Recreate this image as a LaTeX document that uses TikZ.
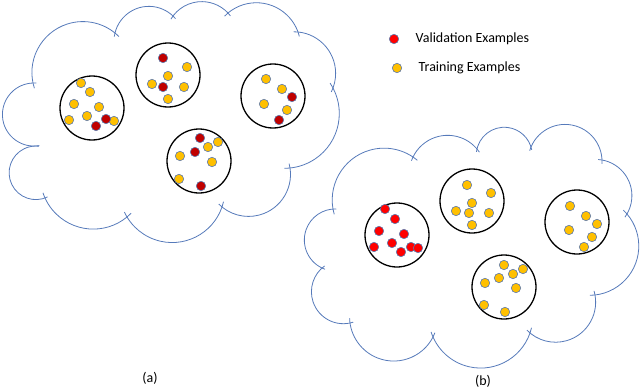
\documentclass[tikz,border=0pt]{standalone}
\usepackage{fontspec}
\setmainfont{Carlito}
\usetikzlibrary{calc,positioning}

\definecolor{cloudblue}{RGB}{86,122,186}
\definecolor{dotedge}{RGB}{92,120,172}
\definecolor{trainyel}{RGB}{255,192,0}
\definecolor{valdark}{RGB}{192,0,0}
\definecolor{valred}{RGB}{255,0,0}

% one puff of a cloud: arc from (x1,y1) to (x2,y2) of the given span, ends run on a bit
\newcommand\puff[5]{%
  \pgfmathsetmacro\pfdir{atan2(#2-#4,#3-#1)}%
  \pgfmathsetmacro\pfrad{veclen(#3-#1,#4-#2)/2/sin(#5/2)}%
  \pgfmathsetmacro\pfsa{\pfdir+90+#5/2+6}%
  \pgfmathsetmacro\pfea{\pfdir+90-#5/2-6}%
  \draw[cloudline] ($(#1,#2)+(\pfsa+174:\pfrad pt)+(\pfsa:\pfrad pt)$)
    arc[start angle=\pfsa, end angle=\pfea, radius=\pfrad pt];}

\begin{document}
\begin{tikzpicture}[
        x=1pt, y=-1pt,
        font=\fontsize{14}{16}\selectfont,
        cloudline/.style={draw=cloudblue, line width=0.8pt},
        cluster/.style={circle, draw=black, line width=1.3pt, minimum size=64pt, inner sep=0pt},
        tdot/.style={fill=trainyel, draw=dotedge, line width=0.6pt},
        vdot/.style={fill=valdark, draw=dotedge, line width=0.6pt},
        bdot/.style={fill=valred, draw=dotedge, line width=0.6pt},
        legdot/.style={circle, draw=dotedge, line width=0.6pt, minimum size=9.4pt, inner sep=0pt},
    ]
        \useasboundingbox (0,0) rectangle (640,388);

        % --- Cloud (a) ---
        \foreach \xa/\ya/\xb/\yb/\sp in {33/83/115/33/141, 115/33/173/16/120, 173/16/228/13/100,
            228/13/298/32/110, 298/32/333/88/105, 333/88/290/168/112, 290/168/222/207/138,
            222/207/127/217/130, 127/217/45/198/105, 45/198/36/146/200, 36/146/33/83/182}
            {\puff{\xa}{\ya}{\xb}{\yb}{\sp}}

        % --- Cloud (b) ---
        \foreach \xa/\ya/\xb/\yb/\sp in {333/209/413/157/134, 413/157/477/149/114, 477/149/531/147/150,
            531/147/602/160/155, 602/160/627/214/110, 627/214/595/295/124, 595/295/530/333/140,
            530/333/433/337/137, 433/337/350/323/145, 350/323/322/268/150, 322/268/333/209/150}
            {\puff{\xa}{\ya}{\xb}{\yb}{\sp}}

        % --- Clusters ---
        \node[cluster] (ca1) at (92,108) {};
        \node[cluster] (ca2) at (168,75) {};
        \node[cluster] (ca3) at (273,96) {};
        \node[cluster] (ca4) at (199,161) {};
        \node[cluster] (cb1) at (397,235) {};
        \node[cluster] (cb2) at (472,201) {};
        \node[cluster] (cb3) at (577,222) {};
        \node[cluster] (cb4) at (504,287) {};

        % --- Examples in (a) ---
        \foreach \x/\y in {81/83, 90/92, 74/104, 99/107, 69/120, 87/116, 114/121,
            187/67, 168/76, 152/84, 184/87, 168/99,
            266/79, 282/89, 264/104, 287/110,
            218/142, 208/147, 180/156, 212/162, 179/179}
            \path[tdot] (\x,\y) circle[radius=4.7pt];
        \foreach \x/\y in {106/119, 96/126, 163/58, 163/87, 292/97, 279/120, 200/138, 195/152, 201/186}
            \path[vdot] (\x,\y) circle[radius=4.7pt];

        % --- Examples in (b) ---
        \foreach \x/\y in {385/209, 395/219, 379/231, 404/234, 374/247, 392/243, 401/252, 411/247, 418/248}
            \path[bdot] (\x,\y) circle[radius=4.7pt];
        \foreach \x/\y in {467/185, 491/193, 472/203, 456/211, 469/213, 489/213, 472/225,
            570/206, 586/216, 597/224, 569/230, 592/237, 584/247,
            504/265, 523/269, 513/274, 499/278, 485/283, 516/288, 484/305, 505/312}
            \path[tdot] (\x,\y) circle[radius=4.7pt];

        % --- Legend ---
        \node[legdot, fill=valred] (lv) at (394,39) {};
        \node[right=15.5pt of lv, inner sep=1pt] (lvtext) {Validation Examples};
        \node[legdot, fill=trainyel] (lt) at (397,68) {};
        \node[right=15.5pt of lt, inner sep=1pt] (lttext) {Training Examples};

        % --- Captions ---
        \node (capa) at (150,378) {(a)};
        \node (capb) at (483,381) {(b)};
    \end{tikzpicture}
\end{document}
